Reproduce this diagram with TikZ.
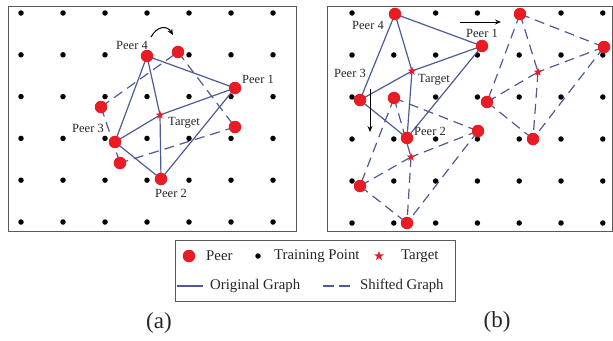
\documentclass[tikz,border=0pt]{standalone}
\usepackage{fontspec}
\setmainfont{Liberation Serif}
\usetikzlibrary{shapes.geometric,arrows.meta}
\definecolor{peerred}{RGB}{232,28,36}
\definecolor{edgeblue}{RGB}{78,90,150}
\definecolor{framegray}{RGB}{90,90,90}
\pgfdeclarelayer{back}
\pgfdeclarelayer{mid}
\pgfsetlayers{back,mid,main}

\begin{document}
\begin{tikzpicture}[x=1pt,y=-1pt,
  peer/.style={circle,fill=peerred,inner sep=0pt,minimum size=12.5pt},
  tpt/.style={circle,fill=black,inner sep=0pt,minimum size=5.5pt},
  tgt/.style={star,star points=5,star point ratio=2.4,fill=peerred,inner sep=0pt,minimum size=9pt},
  orig/.style={draw=edgeblue,line width=1.2pt},
  shifted/.style={orig,dash pattern=on 10pt off 6pt},
  frame/.style={draw=framegray,line width=1.4pt},
  lbl/.style={font=\fontsize{12.5}{13}\selectfont,inner sep=0pt,text=black!85},
  leg/.style={font=\fontsize{14.8}{15}\selectfont,inner sep=0pt,anchor=west,text=black!85},
  captxt/.style={font=\fontsize{23}{24}\selectfont,inner sep=0pt,text=black!85},
  move/.style={-{Stealth[length=6pt,width=5pt]},line width=1pt,black}]
\useasboundingbox (0,0) rectangle (613,340);

% ---------- panel (a): grid of training points ----------
\begin{pgfonlayer}{back}
  \node[frame,draw,fill=none,inner sep=0pt,minimum width=288pt,minimum height=225pt,anchor=north west] (fa) at (8,5.5) {};
  \foreach \i in {0,...,6}
    \foreach \j in {0,...,5}
      \node[tpt] (ta-\i-\j) at ({21+42*\i},{13+41.8*\j}) {};
\end{pgfonlayer}

% peers of the original graph
\node[peer] (a4) at (147,56) {};
\node[peer] (a1) at (235,88) {};
\node[tgt]  (aT) at (160,115) {};
\node[peer] (a3) at (115,142) {};
\node[peer] (a2) at (161,179) {};
% peers after rotation
\node[peer] (ar4) at (178,52) {};
\node[peer] (ar1) at (235,127) {};
\node[peer] (ar3) at (101,107) {};
\node[peer] (ar2) at (120,163) {};

\begin{pgfonlayer}{mid}
  \foreach \u/\v in {4/1,4/3,4/T,1/T,1/2,3/T,3/2,T/2}
    \draw[orig] (a\u.center) -- (a\v.center);
  \foreach \u/\v in {3/4,4/1,1/2,3/2}
    \draw[shifted] (ar\u.center) -- (ar\v.center);
\end{pgfonlayer}

\node[lbl] (la4) at (132,45) {Peer 4};
\node[lbl] (la1) at (258,79) {Peer 1};
\node[lbl] (laT) at (184,123) {Target};
\node[lbl] (la3) at (88,128) {Peer 3};
\node[lbl] (la2) at (171,193) {Peer 2};

% rotation arrow
\coordinate (rotA) at (151,37);
\coordinate (rotB) at (173,35);
\draw[move] (rotA) .. controls (157,26) and (167,25) .. (rotB);

% ---------- panel (b) ----------
\begin{pgfonlayer}{back}
  \node[frame,draw,fill=none,inner sep=0pt,minimum width=284.5pt,minimum height=224.5pt,anchor=north west] (fb) at (327,6) {};
  \foreach \i in {0,...,6}
    \foreach \j in {0,...,5}
      \node[tpt] (tb-\i-\j) at ({352+41.8*\i},{13+42*\j}) {};
\end{pgfonlayer}

% original graph
\node[peer] (b4) at (395,14) {};
\node[peer] (b1) at (482,46) {};
\node[tgt]  (bT) at (412,71) {};
\node[peer] (b3) at (360,100) {};
\node[peer] (b2) at (407,138) {};
% graph shifted to the right
\node[peer] (r4) at (520,14) {};
\node[peer] (r1) at (604,47) {};
\node[tgt]  (rT) at (538,72) {};
\node[peer] (r3) at (487,102) {};
\node[peer] (r2) at (533,139) {};
% graph shifted downwards
\node[peer] (d4) at (394,98) {};
\node[peer] (d1) at (478,131) {};
\node[tgt]  (dT) at (411,157) {};
\node[peer] (d3) at (360,186) {};
\node[peer] (d2) at (407,223) {};

\begin{pgfonlayer}{mid}
  \foreach \u/\v in {4/1,4/3,4/T,1/T,1/2,3/T,3/2,T/2} {
    \draw[orig] (b\u.center) -- (b\v.center);
    \draw[shifted] (r\u.center) -- (r\v.center);
    \draw[shifted] (d\u.center) -- (d\v.center);
  }
\end{pgfonlayer}

\node[lbl] (lb4) at (368,25) {Peer 4};
\node[lbl] (lb1) at (482,33) {Peer 1};
\node[lbl] (lb3) at (350,73) {Peer 3};
\node[lbl] (lbT) at (434,80) {Target};
\node[lbl] (lb2) at (430,131) {Peer 2};

% shift arrows
\coordinate (shR0) at (460,22);
\coordinate (shR1) at (501,22);
\draw[move] (shR0) -- (shR1);
\coordinate (shD0) at (370,89);
\coordinate (shD1) at (370,132);
\draw[move] (shD0) -- (shD1);

% ---------- legend ----------
\node[frame,draw,fill=white,inner sep=0pt,minimum width=280pt,minimum height=61pt,anchor=north west] (legbox) at (175,240) {};
\node[peer] (kp) at (189,256) {};
\node[leg] (kpt) at (206,256) {Peer};
\node[tpt] (kt) at (258,256) {};
\node[leg] (ktt) at (274,256) {Training Point};
\node[tgt,minimum size=10pt] (ks) at (379,256) {};
\node[leg] (kst) at (401,256) {Target};
\coordinate (ko0) at (177,286);
\coordinate (ko1) at (203,286);
\draw[orig] (ko0) -- (ko1);
\node[leg] (kot) at (210,286) {Original Graph};
\coordinate (kd0) at (323,286);
\coordinate (kd1) at (351,286);
\draw[orig,dash pattern=on 11pt off 5pt] (kd0) -- (kd1);
\node[leg] (kdt) at (360,286) {Shifted Graph};

% ---------- captions ----------
\node[captxt] (capa) at (159,323) {(a)};
\node[captxt] (capb) at (497,322) {(b)};
\end{tikzpicture}
\end{document}
